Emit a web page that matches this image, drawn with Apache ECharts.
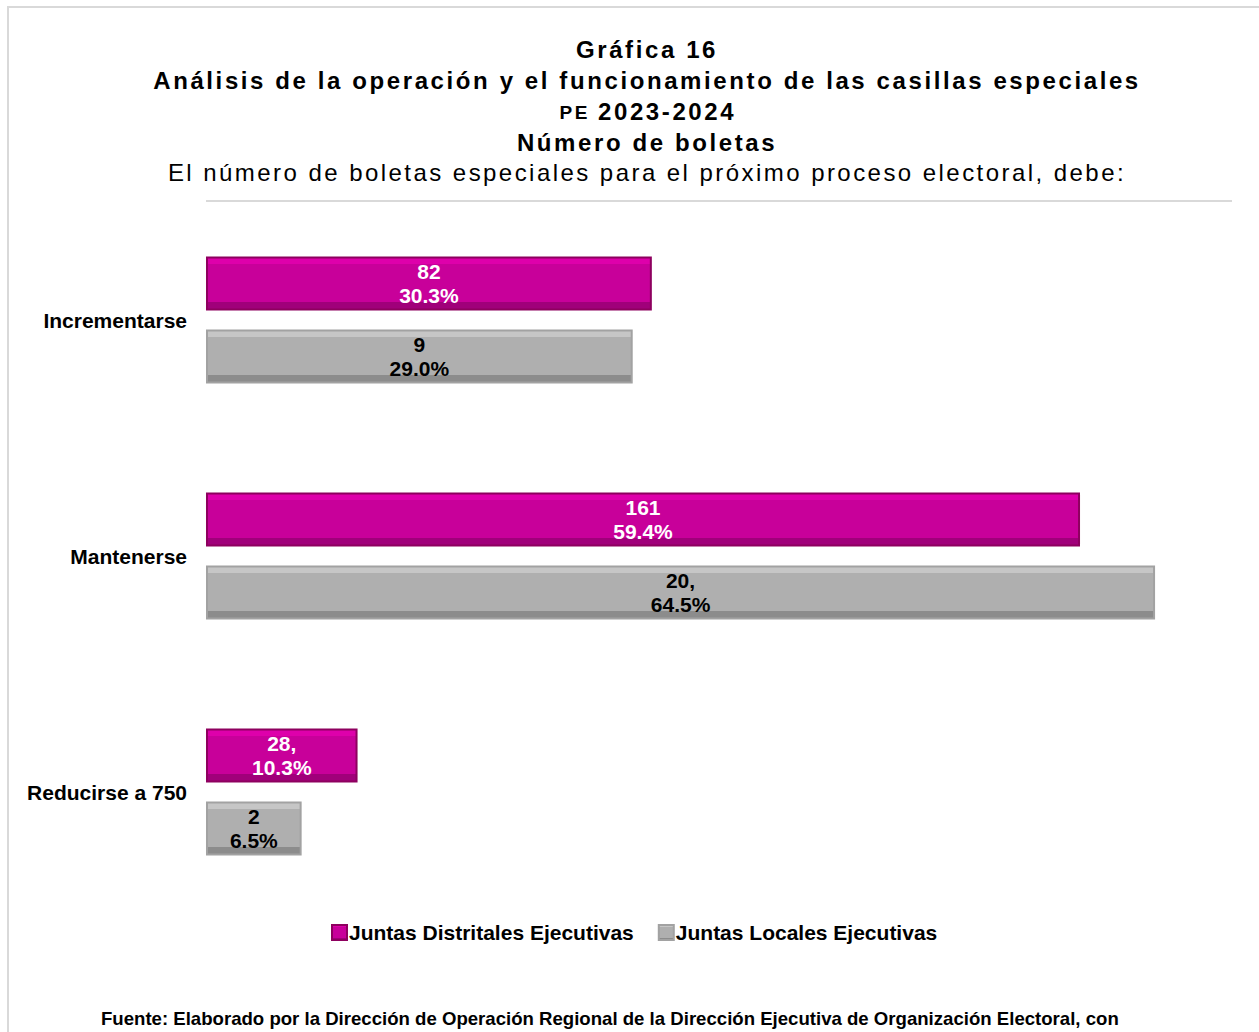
<!DOCTYPE html>
<html>
<head>
<meta charset="utf-8">
<script src="https://cdn.jsdelivr.net/npm/echarts@6/dist/echarts.min.js"></script>
<style>
html,body{margin:0;padding:0;background:#fff;}
#chart{width:1259px;height:1032px;}
</style>
</head>
<body>
<div id="chart"></div>
<script>
var categories = ['Incrementarse', 'Mantenerse', 'Reducirse a 750'];
var seriesNames = ['Juntas Distritales Ejecutivas', 'Juntas Locales Ejecutivas'];
var jdePct = [30.3, 59.4, 10.3];
var jlePct = [29.0, 64.5, 6.5];
var jdeCountText = ['82', '161', '28,'];
var jleCountText = ['9', '20,', '2'];

var titleLines = [
  'Gráfica 16',
  'Análisis de la operación y el funcionamiento de las casillas especiales',
  'Número de boletas'
];
var yearPrefix = 'PE';
var yearText = '2023-2024';
var subtitleText = 'El número de boletas especiales para el próximo proceso electoral, debe:';
var sourceText = 'Fuente: Elaborado por la Dirección de Operación Regional de la Dirección Ejecutiva de Organización Electoral, con';

var FONT = '"Liberation Sans", Arial, sans-serif';
var SPACED = [titleLines[0], titleLines[1], titleLines[2], yearPrefix, yearText];

function bevel(light, main, dark) {
  return {
    type: 'linear', x: 0, y: 0, x2: 0, y2: 1,
    colorStops: [
      {offset: 0, color: light}, {offset: 0.13, color: light},
      {offset: 0.13, color: main}, {offset: 0.86, color: main},
      {offset: 0.86, color: dark}, {offset: 1, color: dark}
    ]
  };
}

function tText(txt, x, y, font, align) {
  return {type: 'text', x: x, y: y, silent: true,
    style: {text: txt, font: font, fill: '#000', align: align || 'center', verticalAlign: 'middle'}};
}

var chart = echarts.init(document.getElementById('chart'), null, {renderer: 'svg'});
var option = {
  backgroundColor: '#ffffff',
  animation: false,
  legend: {
    left: 326, top: 917,
    itemWidth: 15, itemHeight: 15, itemGap: 24,
    icon: 'rect',
    textStyle: {fontFamily: FONT, fontSize: 21, fontWeight: 'bold', color: '#000', padding: [0, 0, 0, -3]},
    data: seriesNames
  },
  grid: {left: 206, right: 23, top: 202, bottom: 122, containLabel: false},
  xAxis: {type: 'value', min: 0, max: 70, show: false},
  yAxis: {
    type: 'category', data: categories, inverse: true,
    axisLine: {show: false}, axisTick: {show: false},
    axisLabel: {fontFamily: FONT, fontSize: 21, fontWeight: 'bold', color: '#000', margin: 19, padding: [2, 0, 0, 0]}
  },
  series: [
    {
      name: seriesNames[0], type: 'bar', data: jdePct,
      barWidth: 54, barGap: '35%',
      itemStyle: {color: bevel('#de00ab', '#c8009a', '#a0007a'), borderColor: '#8e005f', borderWidth: 2},
      label: {
        show: true, position: 'inside', padding: [4, 0, 0, 0],
        fontFamily: FONT, fontSize: 21, fontWeight: 'bold', color: '#ffffff', lineHeight: 24,
        formatter: function (p) { return jdeCountText[p.dataIndex] + '\n' + jdePct[p.dataIndex].toFixed(1) + '%'; }
      }
    },
    {
      name: seriesNames[1], type: 'bar', data: jlePct,
      barWidth: 54, barGap: '35%',
      itemStyle: {color: bevel('#c6c6c6', '#afafaf', '#8c8c8c'), borderColor: '#a2a2a2', borderWidth: 2},
      label: {
        show: true, position: 'inside', padding: [4, 0, 0, 0],
        fontFamily: FONT, fontSize: 21, fontWeight: 'bold', color: '#000000', lineHeight: 24,
        formatter: function (p) { return jleCountText[p.dataIndex] + '\n' + jlePct[p.dataIndex].toFixed(1) + '%'; }
      }
    }
  ],
  graphic: [
    {type: 'rect', shape: {x: 8, y: 7, width: 1300, height: 1100}, style: {fill: 'none', stroke: '#d9d9d9', lineWidth: 2}, silent: true, z: -1},
    {type: 'line', shape: {x1: 206, y1: 201, x2: 1232, y2: 201}, style: {stroke: '#d9d9d9', lineWidth: 2}, silent: true},
    tText(titleLines[0], 647, 49, 'bold 24px ' + FONT),
    tText(titleLines[1], 647, 80, 'bold 24px ' + FONT),
    tText(yearPrefix, 590, 112, 'bold 19px ' + FONT, 'right'),
    tText(yearText, 598, 111, 'bold 24px ' + FONT, 'left'),
    tText(titleLines[2], 647, 142, 'bold 24px ' + FONT),
    tText(subtitleText, 647, 172, '24px ' + FONT),
    {type: 'text', left: 101, top: 1009, silent: true, style: {text: sourceText, font: 'bold 18.6px ' + FONT, fill: '#000'}}
  ]
};
chart.setOption(option);

function applySpacing() {
  var nodes = document.querySelectorAll('#chart svg text');
  for (var i = 0; i < nodes.length; i++) {
    var t = nodes[i].textContent;
    if (SPACED.indexOf(t) >= 0) {
      nodes[i].style.letterSpacing = '2.6px';
    } else if (t === subtitleText) {
      nodes[i].style.letterSpacing = '2.45px';
    }
  }
}
applySpacing();
chart.on('finished', applySpacing);
setTimeout(applySpacing, 0);
</script>
</body>
</html>
